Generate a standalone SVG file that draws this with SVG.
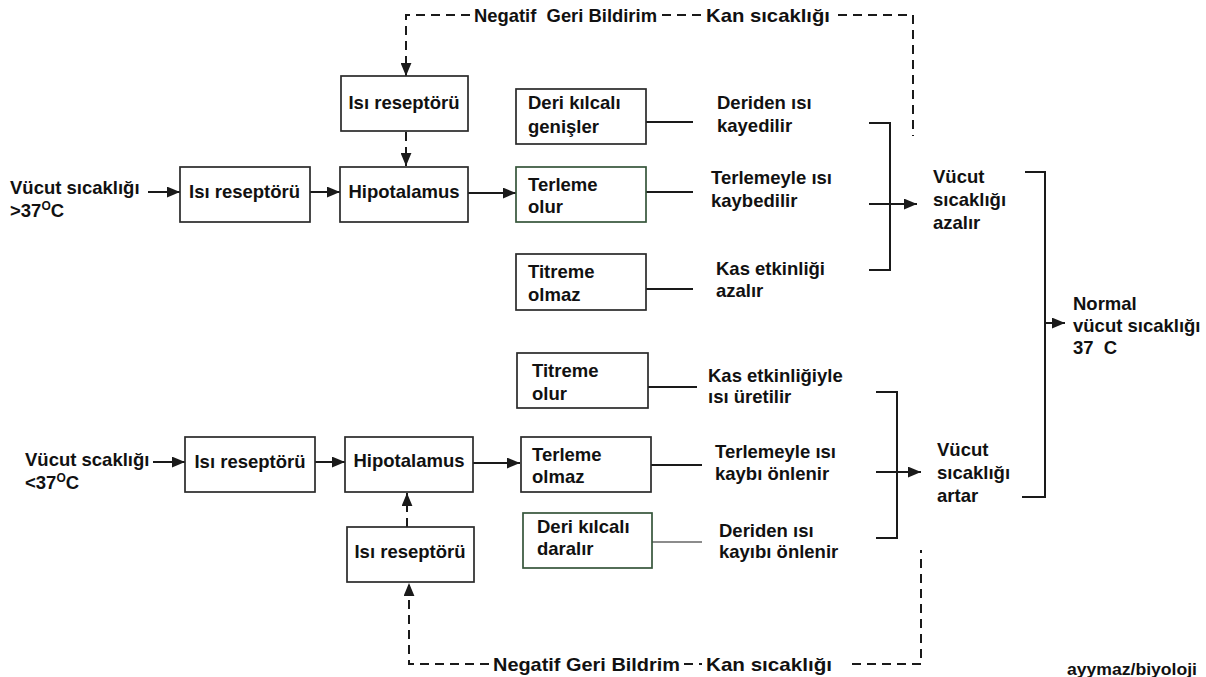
<svg xmlns="http://www.w3.org/2000/svg" width="1206" height="677" viewBox="0 0 1206 677">
<style>
text{font-family:"Liberation Sans",Arial,sans-serif;font-weight:bold;font-size:18.5px;fill:#111}
.box{fill:#fff;stroke:#2a2a2a;stroke-width:1.7}
.gbox{fill:#fff;stroke:#35553a;stroke-width:1.7}
.ln{fill:none;stroke:#1a1a1a;stroke-width:2}
.thin{fill:none;stroke:#1a1a1a;stroke-width:1.2}
.dash{fill:none;stroke:#1a1a1a;stroke-width:2;stroke-dasharray:9 6}
.wm{font-size:16px}
</style>
<defs>
<marker id="ah" viewBox="0 0 12 10" refX="12" refY="5" markerWidth="13" markerHeight="11" markerUnits="userSpaceOnUse" orient="auto">
<path d="M0,0 L12,5 L0,10 z" fill="#1a1a1a"/>
</marker>
</defs>
<rect width="1206" height="677" fill="#fff"/>

<g id="connectors">
<!-- top section -->
<path class="ln" d="M148,192 H180" marker-end="url(#ah)"/>
<path class="ln" d="M310,192 H340" marker-end="url(#ah)"/>
<path class="ln" d="M468,193 H516" marker-end="url(#ah)"/>
<path class="dash" d="M406,132 V166" marker-end="url(#ah)"/>
<path class="dash" d="M470,15 H406 V76" marker-end="url(#ah)"/>
<path class="dash" d="M662,15 H702"/>
<path class="dash" d="M838,15 H913 V136"/>
<path class="ln" d="M646,122 H693"/>
<path class="ln" d="M646,192 H693"/>
<path class="ln" d="M646,289 H693"/>
<path class="ln" d="M869,123 H890 V270 H869"/>
<path class="ln" d="M869,204 H917" marker-end="url(#ah)"/>
<!-- right bracket -->
<path class="ln" d="M1025,172 H1045 V497 H1022"/>
<path class="ln" d="M1045,323 H1065" marker-end="url(#ah)"/>
<!-- bottom section -->
<path class="ln" d="M153,462 H185" marker-end="url(#ah)"/>
<path class="ln" d="M315,462 H345" marker-end="url(#ah)"/>
<path class="ln" d="M473,463 H520" marker-end="url(#ah)"/>
<path class="ln" d="M648,387 H697"/>
<path class="ln" d="M651,465 H702"/>
<path class="thin" d="M652,542 H702"/>
<path class="ln" d="M876,392 H897 V538 H876"/>
<path class="ln" d="M876,472 H921" marker-end="url(#ah)"/>
<path class="dash" d="M407,527 V493" marker-end="url(#ah)"/>
<path class="dash" d="M489,664 H409 V583" marker-end="url(#ah)"/>
<path class="dash" d="M684,664 H702"/>
<path class="dash" d="M852,664 H921 V550"/>
</g>

<g id="feedback-labels">
<text x="474" y="22" textLength="183" lengthAdjust="spacingAndGlyphs" xml:space="preserve">Negatif  Geri Bildirim</text>
<text x="706" y="22" textLength="124" lengthAdjust="spacingAndGlyphs">Kan sıcaklığı</text>
<text x="493" y="671" textLength="187" lengthAdjust="spacingAndGlyphs">Negatif Geri Bildrim</text>
<text x="706" y="671" textLength="126" lengthAdjust="spacingAndGlyphs">Kan sıcaklığı</text>
</g>

<g id="input-high">
<text x="10" y="194">Vücut sıcaklığı</text>
<text x="10" y="217">&gt;37<tspan font-size="12" dy="-7">O</tspan><tspan dy="7">C</tspan></text>
</g>
<g id="receptor-high">
<rect class="box" x="180" y="167" width="130" height="55"/>
<text x="189" y="198">Isı reseptörü</text>
</g>
<g id="receptor-top">
<rect class="box" x="341" y="76" width="127" height="55"/>
<text x="404" y="109" text-anchor="middle">Isı reseptörü</text>
</g>
<g id="hypothalamus-high">
<rect class="box" x="340" y="167" width="128" height="55"/>
<text x="404" y="198" text-anchor="middle">Hipotalamus</text>
</g>
<g id="deri-genisler">
<rect class="box" x="516" y="89" width="130" height="55"/>
<text x="528" y="109">Deri kılcalı</text>
<text x="528" y="133">genişler</text>
</g>
<g id="terleme-olur">
<rect class="gbox" x="516" y="167" width="130" height="55"/>
<text x="528" y="191">Terleme</text>
<text x="528" y="213">olur</text>
</g>
<g id="titreme-olmaz">
<rect class="box" x="516" y="254" width="130" height="56"/>
<text x="528" y="278">Titreme</text>
<text x="528" y="301">olmaz</text>
</g>
<g id="effect-high">
<text x="717" y="109">Deriden ısı</text>
<text x="717" y="132">kayedilir</text>
<text x="711" y="184">Terlemeyle ısı</text>
<text x="711" y="207">kaybedilir</text>
<text x="716" y="275">Kas etkinliği</text>
<text x="716" y="297">azalır</text>
</g>
<g id="result-high">
<text x="933" y="183">Vücut</text>
<text x="933" y="206">sıcaklığı</text>
<text x="933" y="229">azalır</text>
</g>
<g id="normal">
<text x="1073" y="310">Normal</text>
<text x="1073" y="332">vücut sıcaklığı</text>
<text x="1073" y="354" xml:space="preserve">37  C</text>
</g>

<g id="input-low">
<text x="25" y="466">Vücut scaklığı</text>
<text x="25" y="489">&lt;37<tspan font-size="12" dy="-7">O</tspan><tspan dy="7">C</tspan></text>
</g>
<g id="receptor-low">
<rect class="box" x="185" y="437" width="130" height="55"/>
<text x="250" y="468" text-anchor="middle">Isı reseptörü</text>
</g>
<g id="hypothalamus-low">
<rect class="box" x="345" y="437" width="128" height="55"/>
<text x="409" y="467" text-anchor="middle">Hipotalamus</text>
</g>
<g id="receptor-bottom">
<rect class="box" x="347" y="527" width="127" height="55"/>
<text x="410" y="558" text-anchor="middle">Isı reseptörü</text>
</g>
<g id="titreme-olur">
<rect class="box" x="517" y="353" width="131" height="55"/>
<text x="532" y="377">Titreme</text>
<text x="532" y="400">olur</text>
</g>
<g id="terleme-olmaz">
<rect class="box" x="521" y="437" width="130" height="55"/>
<text x="532" y="461">Terleme</text>
<text x="532" y="483">olmaz</text>
</g>
<g id="deri-daralir">
<rect class="gbox" x="523" y="513" width="129" height="55"/>
<text x="537" y="533">Deri kılcalı</text>
<text x="537" y="555">daralır</text>
</g>
<g id="effect-low">
<text x="708" y="382">Kas etkinliğiyle</text>
<text x="708" y="403">ısı üretilir</text>
<text x="715" y="458">Terlemeyle ısı</text>
<text x="715" y="480">kaybı önlenir</text>
<text x="719" y="537">Deriden ısı</text>
<text x="719" y="558">kayıbı önlenir</text>
</g>
<g id="result-low">
<text x="937" y="456">Vücut</text>
<text x="937" y="479">sıcaklığı</text>
<text x="937" y="502">artar</text>
</g>
<g id="watermark">
<text class="wm" x="1067" y="675" textLength="130" lengthAdjust="spacingAndGlyphs">ayymaz/biyoloji</text>
</g>
</svg>
